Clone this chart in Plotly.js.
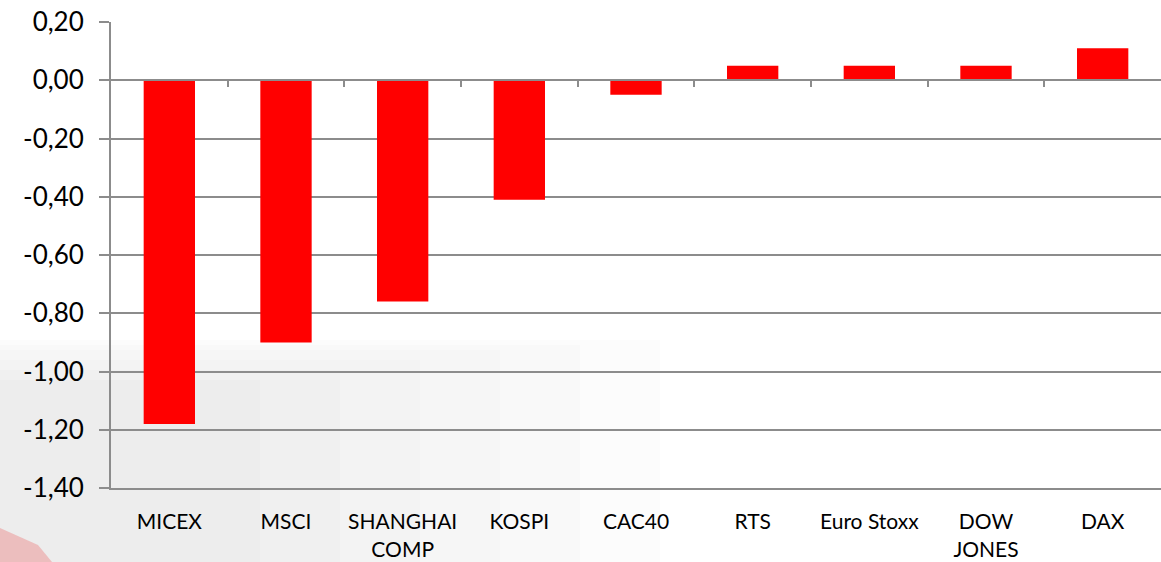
<!DOCTYPE html>
<html>
<head>
<meta charset="utf-8">
<script src="https://cdn.plot.ly/plotly-3.0.1.min.js"></script>
<style>html,body{margin:0;padding:0;background:#fff;}#chart{width:1161px;height:562px;}</style>
</head>
<body>
<div id="chart"></div>
<script>
const categories = ["MICEX", "MSCI", "SHANGHAI<br>COMP", "KOSPI", "CAC40", "RTS", "Euro Stoxx", "DOW<br>JONES", "DAX"];
const values = [-1.18, -0.90, -0.76, -0.41, -0.05, 0.05, 0.05, 0.05, 0.11];
const yTicks = [0.2, 0, -0.2, -0.4, -0.6, -0.8, -1.0, -1.2, -1.4];
const yTickLabels = ["0,20", "0,00", "-0,20", "-0,40", "-0,60", "-0,80", "-1,00", "-1,20", "-1,40"];

const idx = categories.map((c, i) => i);
const boundaries = idx.slice(0, -1).map(i => i + 0.5);

const grid = '#8c8c8c';
const font = 'Lato, "Open Sans", sans-serif';

const W = 1161, H = 562, ML = 111, MR = 0, MT = 22, MB = 74;
const pw = W - ML - MR, ph = H - MT - MB;
const px = x => (x - ML) / pw;
const py = y => (H - MB - y) / ph;

// faint watermark background (stacked translucent bands approximate a fade)
const bgShapes = [];
[[660, 340], [580, 345], [500, 350], [420, 360], [340, 370], [260, 380]].forEach(([xr, yt]) => {
  bgShapes.push({type: 'rect', xref: 'paper', yref: 'paper', layer: 'below',
    x0: px(0), x1: px(xr), y0: py(562), y1: py(yt),
    fillcolor: 'rgba(200,200,200,0.05)', line: {width: 0}});
});
bgShapes.push({type: 'path', xref: 'paper', yref: 'paper', layer: 'below',
  path: `M ${px(0)} ${py(528)} L ${px(38)} ${py(545)} L ${px(52)} ${py(562)} L ${px(0)} ${py(562)} Z`,
  fillcolor: 'rgba(235,120,120,0.4)', line: {width: 0}});

const data = [
  {
    type: 'bar',
    x: idx,
    y: values,
    marker: {color: '#ff0000'},
    width: 0.44,
    hoverinfo: 'skip',
    xaxis: 'x',
    yaxis: 'y'
  },
  {
    type: 'scatter',
    mode: 'markers',
    x: [0],
    y: [0],
    marker: {opacity: 0},
    hoverinfo: 'skip',
    xaxis: 'x2',
    yaxis: 'y'
  }
];

const layout = {
  width: W,
  height: H,
  margin: {l: ML, r: MR, t: MT, b: MB},
  paper_bgcolor: '#ffffff',
  plot_bgcolor: 'rgba(0,0,0,0)',
  showlegend: false,
  font: {family: font, color: '#000'},
  shapes: bgShapes,
  xaxis: {
    range: [-0.5, categories.length - 0.5],
    tickvals: idx,
    ticktext: categories,
    ticks: '',
    ticklabelstandoff: 14,
    showgrid: false,
    zeroline: false,
    showline: true,
    linecolor: grid,
    linewidth: 2,
    tickfont: {size: 21, family: font, color: '#000'},
    fixedrange: true
  },
  xaxis2: {
    overlaying: 'x',
    anchor: 'free',
    position: 0.875,
    range: [-0.5, categories.length - 0.5],
    tickvals: boundaries,
    showticklabels: false,
    ticks: 'outside',
    ticklen: 6,
    tickwidth: 2,
    tickcolor: grid,
    showgrid: false,
    zeroline: false,
    showline: true,
    linecolor: grid,
    linewidth: 2
  },
  yaxis: {
    range: [-1.4, 0.2],
    tickvals: yTicks,
    ticktext: yTickLabels,
    ticks: 'outside',
    ticklen: 10,
    tickwidth: 2,
    tickcolor: grid,
    ticklabelstandoff: 10,
    showgrid: true,
    gridcolor: grid,
    gridwidth: 2,
    zeroline: false,
    showline: true,
    linecolor: grid,
    linewidth: 2,
    tickfont: {size: 26, family: font, color: '#000'},
    fixedrange: true
  }
};

Plotly.newPlot('chart', data, layout, {displayModeBar: false, staticPlot: true});
</script>
</body>
</html>
